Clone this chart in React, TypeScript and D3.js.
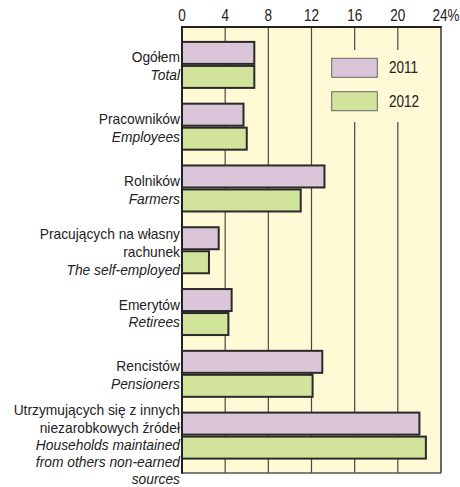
import React from "react";
import * as d3 from "d3";

const categoriesPl: string[][] = [
  ["Ogółem"],
  ["Pracowników"],
  ["Rolników"],
  ["Pracujących na własny", "rachunek"],
  ["Emerytów"],
  ["Rencistów"],
  ["Utrzymujących się z innych", "niezarobkowych źródeł"],
];
const categoriesEn: string[][] = [
  ["Total"],
  ["Employees"],
  ["Farmers"],
  ["The self-employed"],
  ["Retirees"],
  ["Pensioners"],
  ["Households maintained", "from others non-earned", "sources"],
];
const values2011 = [6.7, 5.7, 13.2, 3.4, 4.6, 13.0, 22.0];
const values2012 = [6.7, 6.0, 11.0, 2.5, 4.3, 12.1, 22.6];
const seriesNames = ["2011", "2012"];
const tickValues = [0, 4, 8, 12, 16, 20, 24];

const W = 460;
const H = 487;
const FONT = "'Liberation Sans', Arial, sans-serif";
const COLORS = ["#dbc5d9", "#d2e39b"];
const CREAM = "#fff9d5";
const INK = "#222";

export default function App() {
  const plotLeft = 182;
  const plotRight = 441;
  const plotTop = 27;
  const plotBottom = 473;

  const x = d3.scaleLinear().domain([0, 24]).range([plotLeft, plotRight]);
  const idx = categoriesPl.map((_, i) => i);
  const y = d3.scaleBand<number>().domain(idx).range([34, 466.5]).padding(0);
  const step = y.step();
  const barH = 22;
  const lh = 17.8;

  const series = [values2011, values2012];

  return (
    <svg
      width={W}
      height={H}
      style={{ position: "absolute", left: 0, top: 0, background: "#fff" }}
      fontFamily={FONT}
    >
      <rect x={0} y={0} width={W} height={H} fill="#fff" />
      {/* plot background */}
      <rect
        x={plotLeft}
        y={plotTop}
        width={plotRight - plotLeft}
        height={plotBottom - plotTop}
        fill={CREAM}
      />
      {/* gridlines */}
      {tickValues.slice(1, -1).map((t) => (
        <line
          key={t}
          x1={x(t)}
          x2={x(t)}
          y1={plotTop}
          y2={plotBottom}
          stroke="#4a4740"
          strokeWidth={1.2}
        />
      ))}
      {/* legend mask */}
      <rect x={325} y={50} width={110} height={72} fill={CREAM} />
      {/* frame */}
      <line x1={plotRight} x2={plotRight} y1={plotTop} y2={plotBottom} stroke="#444" strokeWidth={1.6} />
      <line x1={plotLeft} x2={plotRight} y1={plotBottom} y2={plotBottom} stroke="#555" strokeWidth={1.5} />
      <line x1={plotLeft - 1} x2={plotRight + 0.8} y1={plotTop} y2={plotTop} stroke={INK} strokeWidth={2} />

      {/* bars */}
      {idx.map((i) => {
        const c = (y(i) as number) + step / 2;
        return series.map((vals, s) => (
          <rect
            key={`${i}-${s}`}
            x={x(0)}
            y={s === 0 ? c - barH - 1 : c + 1}
            width={x(vals[i]) - x(0)}
            height={barH}
            fill={COLORS[s]}
            stroke="#2a2a2a"
            strokeWidth={2}
          />
        ));
      })}

      <line x1={plotLeft} x2={plotLeft} y1={plotTop - 1} y2={plotBottom + 0.8} stroke={INK} strokeWidth={2} />

      {/* tick labels */}
      {tickValues.map((t, k) => (
        <g key={t} transform={`translate(${x(t)},21) scale(0.82,1)`}>
          <text
            x={k === tickValues.length - 1 ? -8.5 / 0.82 : 0}
            textAnchor={k === tickValues.length - 1 ? "start" : "middle"}
            fontSize={16.5}
            fill={INK}
          >
            {k === tickValues.length - 1 ? `${t}%` : t}
          </text>
        </g>
      ))}

      {/* category labels */}
      {idx.map((i) => {
        const c = (y(i) as number) + step / 2;
        const lines = [
          ...categoriesPl[i].map((t) => ({ t, it: false })),
          ...categoriesEn[i].map((t) => ({ t, it: true })),
        ];
        const n = lines.length;
        const start = c + 6.5 - Math.min((n - 1) / 2, 1.5) * lh;
        const maxLast = H - 3;
        const lineH = start + (n - 1) * lh > maxLast ? (maxLast - start) / (n - 1) : lh;
        return (
          <g key={i} transform={`translate(180,0) scale(0.92,1)`}>
            {lines.map((l, j) => (
              <text
                key={j}
                x={0}
                y={start + j * lineH}
                textAnchor="end"
                fontSize={15}
                fontStyle={l.it ? "italic" : "normal"}
                fill={INK}
              >
                {l.t}
              </text>
            ))}
          </g>
        );
      })}

      {/* legend */}
      {seriesNames.map((name, s) => (
        <g key={name}>
          <rect
            x={331.7}
            y={58.3 + s * 33.4}
            width={45.6}
            height={19}
            fill={COLORS[s]}
            stroke="#666"
            strokeWidth={1}
          />
          <g transform={`translate(389,${73.3 + s * 33.4}) scale(0.82,1)`}>
            <text x={0} y={0} fontSize={16.5} fill={INK}>
              {name}
            </text>
          </g>
        </g>
      ))}
    </svg>
  );
}
